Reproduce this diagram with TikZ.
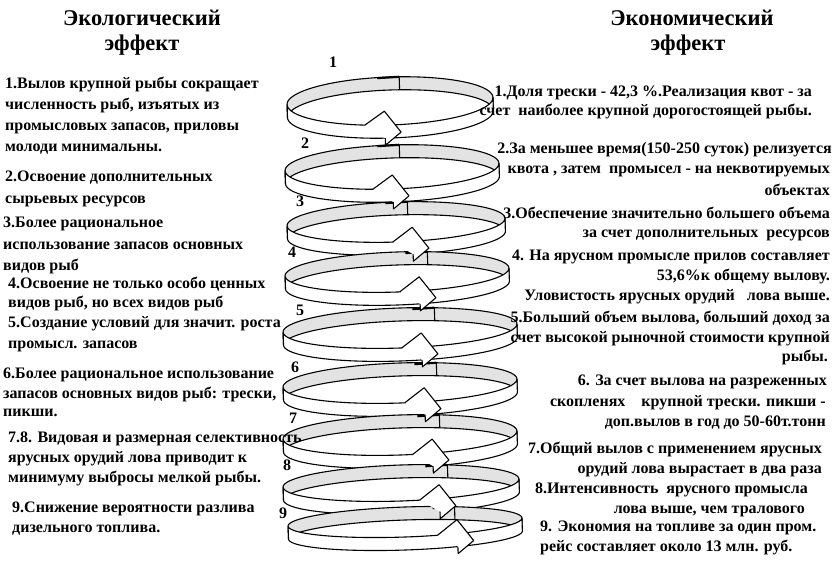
\documentclass[tikz,border=0pt]{standalone}
\usepackage{fontspec}
\setmainfont{Liberation Serif}
\newcommand\bodyfnt{\fontsize{16}{19}\selectfont\bfseries}
\newcommand\headfnt{\fontsize{22.5}{26}\selectfont\bfseries}
\def\bt{13}
\tikzset{
  backband/.style={fill=gray!22, draw=black, line width=1.1pt, line join=round},
  frontband/.style={fill=white, draw=black, line width=1.1pt, line join=round},
  edge/.style={draw=black, line width=1.1pt, line join=round},
  lt/.style={font=\bodyfnt, anchor=base west, inner sep=0pt},
  rt/.style={font=\bodyfnt, anchor=base east, inner sep=0pt},
  hd/.style={font=\headfnt, anchor=base, inner sep=0pt},
  num/.style={font=\bodyfnt, anchor=base, inner sep=0pt}
}
\newcommand\ringband[5]{%
\begin{scope}[shift={(#1,#2)},rotate=2]
\pgfmathsetmacro\sx{#5-#1}
\pgfmathsetmacro\sy{#4*sin(acos(\sx/#3))}
\path[backband] plot[domain=0:180,samples=60] ({-#3*cos(\x)},{-#4*sin(\x)}) -- plot[domain=0:180,samples=60] ({#3*cos(\x)},{\bt-#4*sin(\x)}) -- cycle;
\draw[edge] (\sx,-\sy) -- (\sx,\bt-\sy);
\draw[line width=2.2pt] (\sx,-\sy) -- ++(-22,0.6);
\path[frontband] plot[domain=0:180,samples=60] ({-#3*cos(\x)},{#4*sin(\x)}) -- plot[domain=0:180,samples=60] ({#3*cos(\x)},{\bt+#4*sin(\x)}) -- cycle;
\end{scope}}
\newcommand\ringarrow[5]{%
\begin{scope}[shift={(#1,#2)},rotate=2]
\pgfmathsetmacro\xe{#5-#1-16}
\pgfmathsetmacro\xo{\xe-20}
\pgfmathsetmacro\ye{#4*sin(acos(\xe/#3))}
\pgfmathsetmacro\yo{#4*sin(acos(\xo/#3))}
\fill[white] (\xo,\yo) -- (\xe,\ye-14) -- (\xe+16,\ye+\bt/2+1) -- (\xe,\ye+\bt+7) -- (\xe,\ye+\bt) -- cycle;
\draw[edge] (\xo,\yo) -- (\xe,\ye-14) -- (\xe+16,\ye+\bt/2+1) -- (\xe,\ye+\bt+7) -- (\xe,\ye+\bt);
\end{scope}}
\begin{document}
\begin{tikzpicture}[x=1pt,y=-1pt]
\useasboundingbox (0,0) rectangle (836,563);
\fill[white] (0,0) rectangle (836,563);
% spiral rings
\ringband{390}{101}{103}{24}{400}
\ringband{392}{167}{107}{22}{400}
\ringband{396}{222}{109}{20}{408}
\ringband{397}{272}{112}{20}{428}
\ringband{400}{328}{117}{20}{435}
\ringband{400}{383}{117}{20}{437}
\ringband{400}{435}{117}{20}{440}
\ringband{401}{483}{118}{18}{448}
\ringband{405}{522}{117}{15}{455}
\ringarrow{390}{101}{103}{24}{400}
\ringarrow{392}{167}{107}{22}{408}
\ringarrow{396}{222}{109}{20}{428}
\ringarrow{397}{272}{112}{20}{435}
\ringarrow{400}{328}{117}{20}{437}
\ringarrow{400}{383}{117}{20}{440}
\ringarrow{400}{435}{117}{20}{448}
\ringarrow{401}{483}{118}{18}{455}
\ringarrow{405}{522}{117}{15}{473}
% ring numbers
\node[num] (n1) at (333,67) {1};
\node[num] (n2) at (305,148) {2};
\node[num] (n3) at (300,206) {3};
\node[num] (n4) at (292,257) {4};
\node[num] (n5) at (300,315) {5};
\node[num] (n6) at (295,372) {6};
\node[num] (n7) at (293,423) {7};
\node[num] (n8) at (287,470) {8};
\node[num] (n9) at (283,518) {9};
% headers
\node[hd] (hl1) at (142,25) {Экологический};
\node[hd] (hl2) at (142,50) {эффект};
\node[hd] (hr1) at (692,25) {Экономический};
\node[hd] (hr2) at (688,50) {эффект};
% left texts
\node[lt] (l1a) at (5,88) {1.Вылов крупной рыбы сокращает};
\node[lt] (l1b) at (5,109) {численность рыб, изъятых из};
\node[lt] (l1c) at (5,130) {промысловых запасов, приловы};
\node[lt] (l1d) at (5,151) {молоди минимальны.};
\node[lt] (l2a) at (5,181) {2.Освоение дополнительных};
\node[lt] (l2b) at (5,203) {сырьевых ресурсов};
\node[lt] (l3a) at (3,227) {3.Более рациональное};
\node[lt] (l3b) at (3,249) {использование запасов основных};
\node[lt] (l3c) at (3,270) {видов рыб};
\node[lt] (l4a) at (8,288) {4.Освоение не только особо ценных};
\node[lt] (l4b) at (8,307) {видов рыб, но всех видов рыб};
\node[lt] (l5a) at (8,327) {5.Создание условий для значит. роста};
\node[lt] (l5b) at (8,348) {промысл. запасов};
\node[lt] (l6a) at (3,378) {6.Более рациональное использование};
\node[lt] (l6b) at (3,398) {запасов основных видов рыб: трески,};
\node[lt] (l6c) at (3,416) {пикши.};
\node[lt] (l7a) at (8,442) {7.8. Видовая и размерная селективность};
\node[lt] (l7b) at (8,462) {ярусных орудий лова приводит к};
\node[lt] (l7c) at (8,482) {минимуму выбросы мелкой рыбы.};
\node[lt] (l9a) at (12,512) {9.Снижение вероятности разлива};
\node[lt] (l9b) at (12,532) {дизельного топлива.};
% right texts
\node[rt] (r1a) at (812,96) {1.Доля трески - 42,3 \%.Реализация квот - за};
\node[rt] (r1b) at (812,115) {счет\ \ наиболее крупной дорогостоящей рыбы.};
\node[rt] (r2a) at (832,153) {2.За меньшее время(150-250 суток) релизуется};
\node[rt] (r2b) at (830,173) {квота , затем\ \ промысел - на неквотируемых};
\node[rt] (r2c) at (830,195) {объектах};
\node[rt] (r3a) at (830,218) {3.Обеспечение значительно большего объема};
\node[rt] (r3b) at (830,237) {за счет дополнительных\ \ ресурсов};
\node[rt] (r4a) at (830,260) {4. На ярусном промысле прилов составляет};
\node[rt] (r4b) at (830,280) {53,6\%к общему вылову.};
\node[rt] (r4c) at (830,300) {Уловистость ярусных орудий\ \ \ лова выше.};
\node[rt] (r5a) at (830,322) {5.Больший объем вылова, больший доход за};
\node[rt] (r5b) at (830,342) {счет высокой рыночной стоимости крупной};
\node[rt] (r5c) at (828,361) {рыбы.};
\node[rt] (r6a) at (827,385) {6. За счет вылова на разреженных};
\node[rt] (r6b) at (826,406) {скопленях\ \ \ \ крупной трески. пикши -};
\node[rt] (r6c) at (826,426) {доп.вылов в год до 50-60т.тонн};
\node[rt] (r7a) at (822,453) {7.Общий вылов с применением ярусных};
\node[rt] (r7b) at (822,473) {орудий лова вырастает в два раза};
\node[rt] (r8a) at (808,493) {8.Интенсивность\ \ ярусного промысла};
\node[rt] (r8b) at (805,513) {лова выше, чем тралового};
\node[lt] (r9a) at (540,531) {9. Экономия на топливе за один пром.};
\node[lt] (r9b) at (540,551) {рейс составляет около 13 млн. руб.};
\end{tikzpicture}
\end{document}
